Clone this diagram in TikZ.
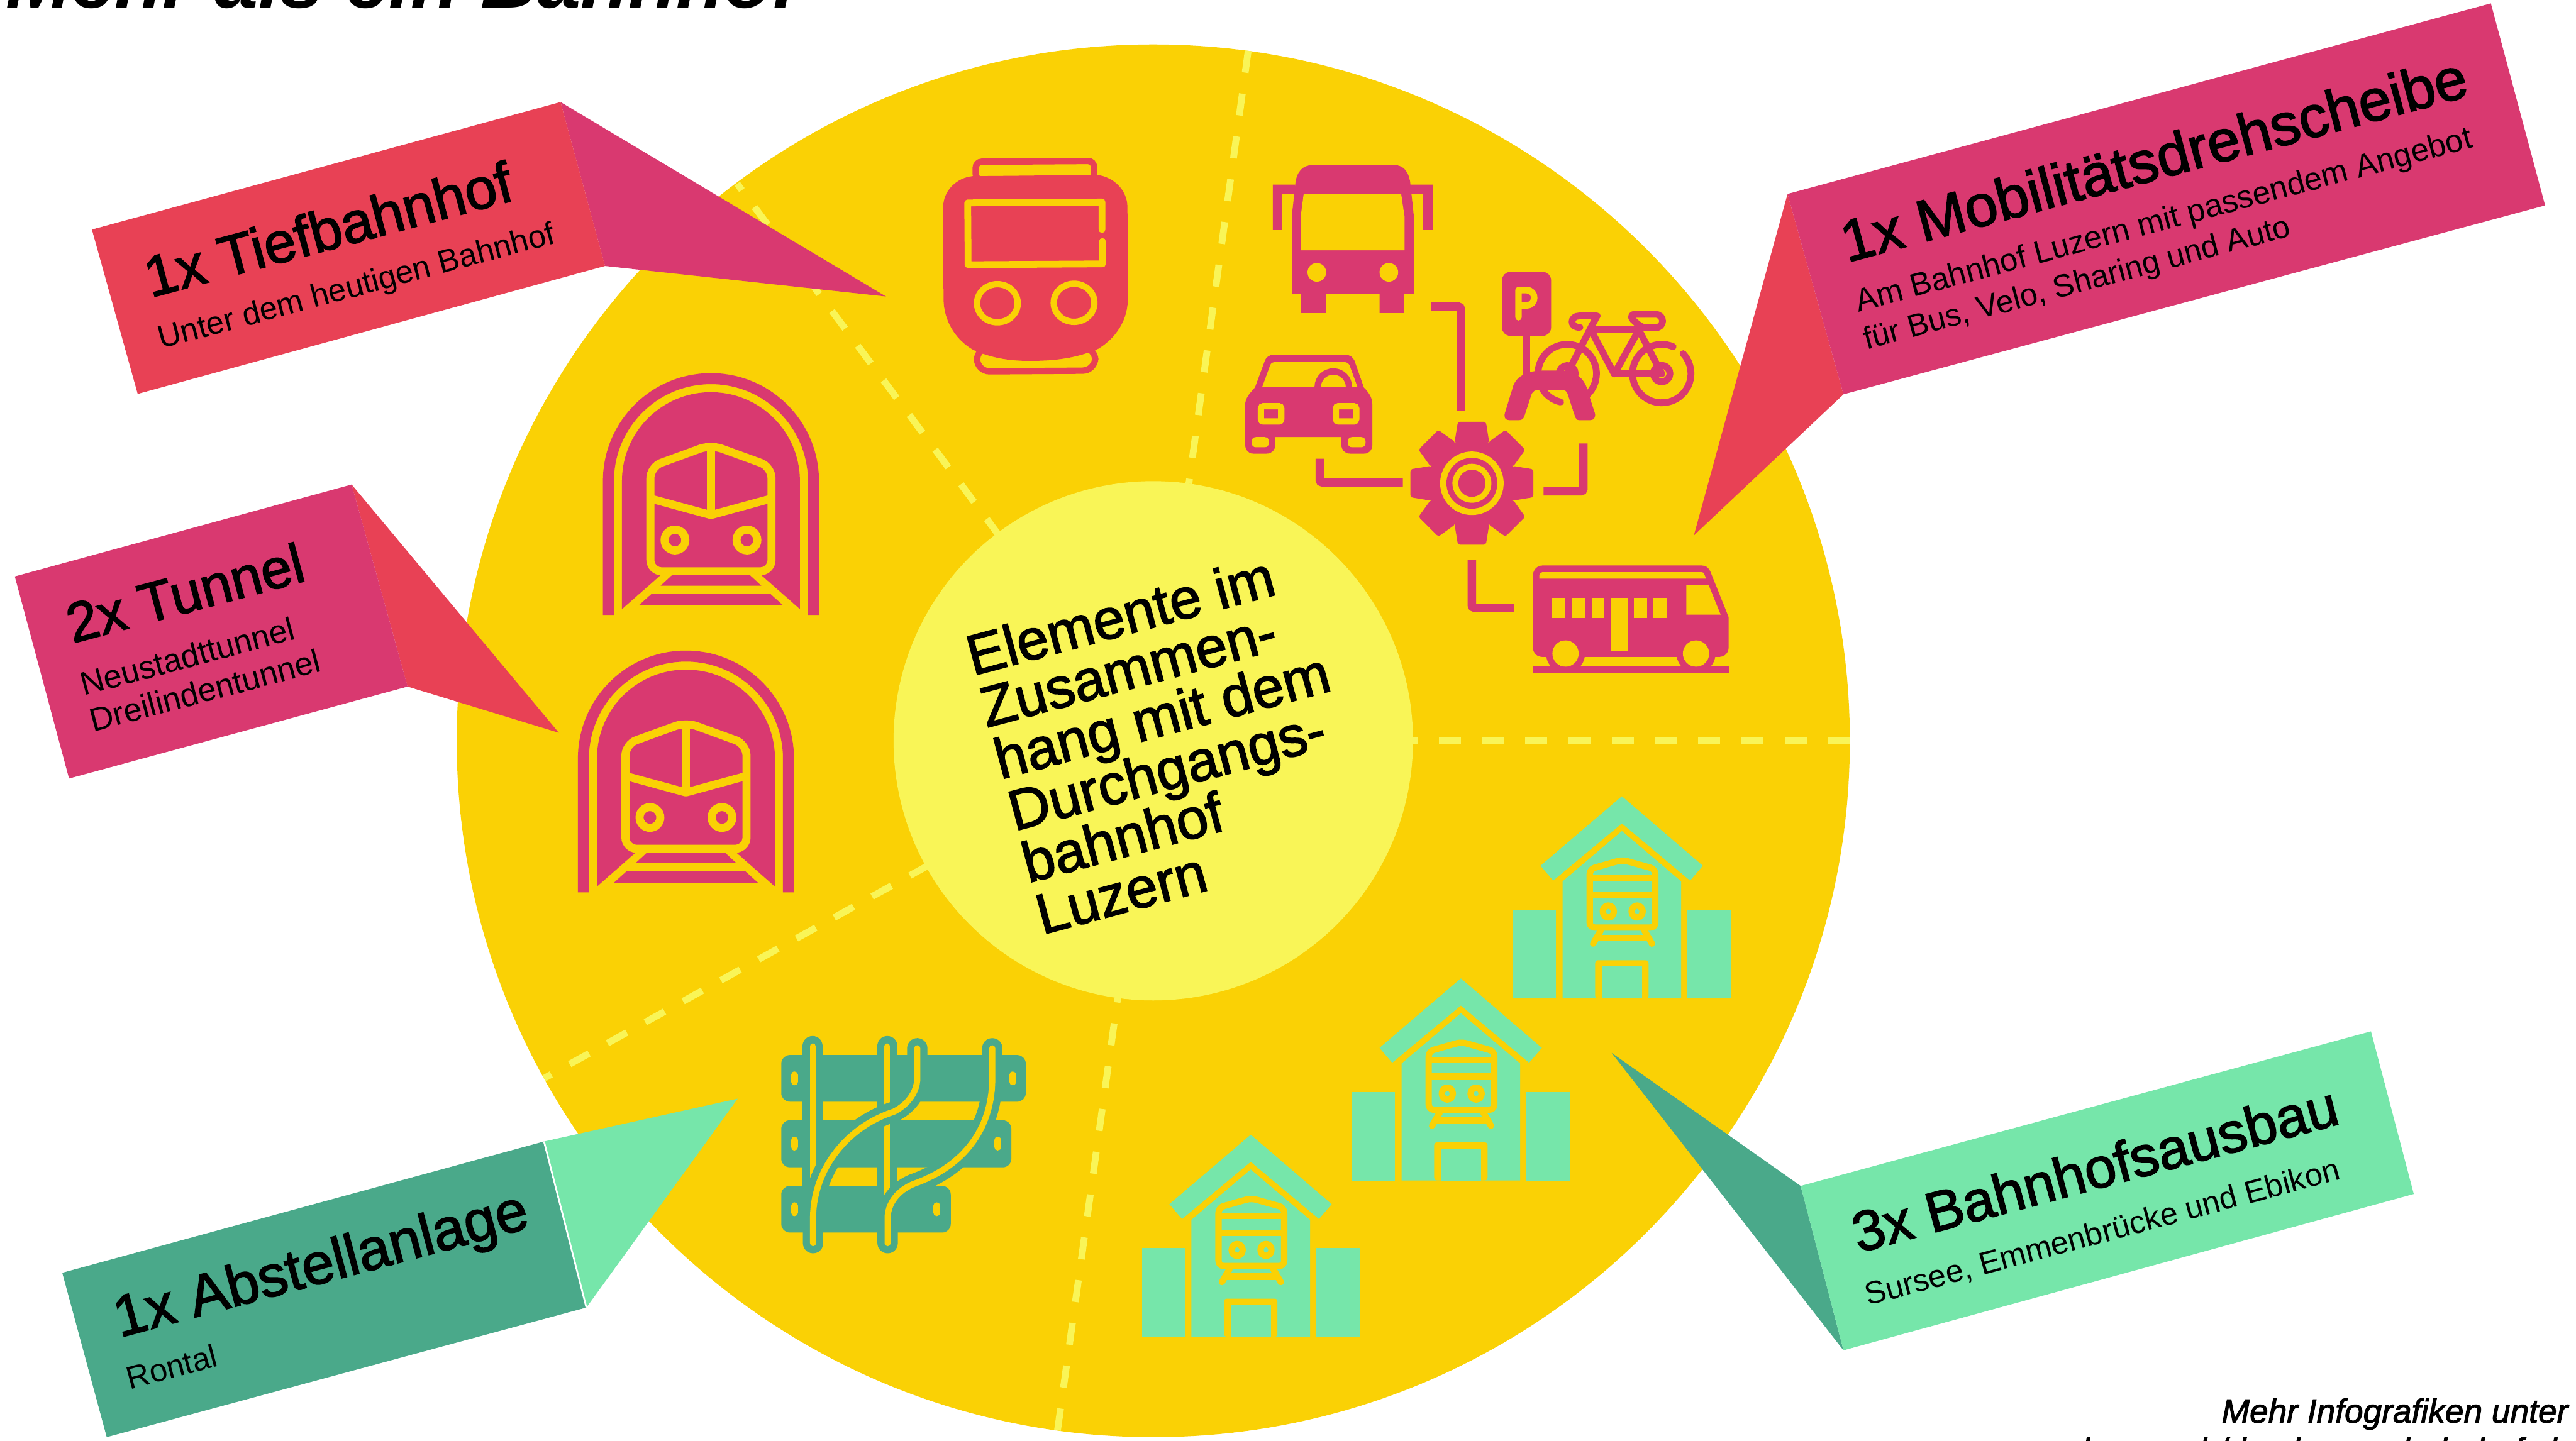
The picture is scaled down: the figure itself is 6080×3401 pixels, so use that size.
\documentclass[tikz,border=0pt]{standalone}
\usepackage{fontspec}
\setmainfont{Liberation Sans}
\newfontfamily\medf{Liberation Sans}[FakeBold=2]
\definecolor{gold}{HTML}{FAD105}
\definecolor{lemon}{HTML}{F9F557}
\definecolor{rose}{HTML}{D93970}
\definecolor{coral}{HTML}{E84155}
\definecolor{teal}{HTML}{4AA98A}
\definecolor{mint}{HTML}{76E6AA}
\tikzset{
  spoke/.style={draw=lemon,line width=1.6mm,dash pattern=on 5.2mm off 5mm},
  head/.style={anchor=base west,rotate=15,inner sep=0pt,font=\medf\fontsize{38.6}{38.6}\selectfont},
  sub/.style={anchor=base west,rotate=15,inner sep=0pt,font=\fontsize{21.5}{21.5}\selectfont},
  foot/.style={anchor=base east,inner sep=0pt,font=\medf\itshape\fontsize{22.5}{22.5}\selectfont},
  ystroke/.style={draw=gold,line join=round},
  bracket/.style={draw=rose,line width=2mm,rounded corners=0.6mm},
  bike/.style={draw=rose,line width=1.6mm,line cap=round,line join=round},
  tstroke/.style={draw=gold,line width=1.5mm,line join=round},
}
\newcommand{\tunnelicon}[2]{%
\begin{scope}[shift={(#1,#2)}]
  \fill[rose] (-255,602)--(-255,286) arc (180:360:255) --(255,602)--(229,602)--(229,286) arc (360:180:229) --(-229,602)--cycle;
  \fill[rose] (-210,588)--(-210,286) arc (180:360:210) --(210,588)--(119,508)--(-119,508)--cycle;
  \draw[ystroke,line width=1.9mm,fill=rose,rounded corners=2.7mm] (-143,499)--(-143,252)--(0,200)--(143,252)--(143,499)--cycle;
  \draw[ystroke,line width=1.9mm] (-143,327)--(0,366)--(143,327);
  \draw[ystroke,line width=1.9mm] (0,200)--(0,366);
  \draw[ystroke,line width=1.9mm] (-85,425) circle (24.5);
  \draw[ystroke,line width=1.9mm] (85,425) circle (24.5);
  \fill[rose] (-92,508)--(92,508)--(119,533)--(-119,533)--cycle;
  \fill[rose] (-140,552)--(140,552)--(170,579)--(-170,579)--cycle;
\end{scope}}
\newcommand{\stationicon}[2]{%
\begin{scope}[shift={(#1,#2)}]
  \fill[mint] (3828,1880)--(4019,2044)--(3989,2079)--(3828,1944)--(3666,2079)--(3636,2044)--cycle;
  \fill[mint] (3828,1962)--(3968,2081)--(3968,2357)--(3688,2357)--(3688,2081)--cycle;
  \fill[mint] (3571,2148) rectangle (3673,2357);
  \fill[mint] (3983,2148) rectangle (4087,2357);
  \draw[tstroke,rounded corners=1.2mm] (3752,2190)--(3752,2052)--(3829,2030)--(3907,2052)--(3907,2190)--cycle;
  \draw[tstroke] (3752,2072)--(3907,2072);
  \draw[tstroke] (3752,2112)--(3907,2112);
  \draw[tstroke] (3796,2152) ellipse (13 and 14);
  \draw[tstroke] (3864,2152) ellipse (13 and 14);
  \draw[tstroke,line cap=round] (3778,2197)--(3760,2228);
  \draw[tstroke,line cap=round] (3881,2197)--(3899,2228);
  \draw[tstroke] (3771,2215)--(3888,2215);
  \fill[gold,rounded corners=0.6mm] (3765,2357)--(3765,2267)--(3891,2267)--(3891,2357)--cycle;
  \fill[mint] (3781,2282) rectangle (3876,2357);
\end{scope}}
\begin{document}
\begin{tikzpicture}[x=0.1mm,y=-0.1mm]
\useasboundingbox (0,0) rectangle (6080,3401);
\fill[white] (0,0) rectangle (6080,3401);
% disc
\coordinate (c) at (2722,1749);
\fill[gold] (c) circle (1644);
\draw[spoke] (2360,1267)--(1740,434);
\draw[spoke] (2946,120)--(2806,1142);
\draw[spoke] (4366,1749)--(3335,1749);
\draw[spoke] (2496,3377)--(2638,2356);
\draw[spoke] (2193,2042)--(1284,2546);
\fill[lemon] (c) circle (613);
% underground station icon
\draw[draw=coral,fill=gold,line width=1.5mm,rounded corners=1.4mm] (2303,425)--(2303,382)--(2582,380)--(2582,425)--cycle;
\draw[draw=coral,fill=gold,line width=1.5mm,rounded corners=3mm] (2306,820)--(2306,877)--(2585,875)--(2585,820)--cycle;
\fill[coral] (2226,490) .. controls (2226,450) and (2258,420) .. (2295,416) -- (2590,413) .. controls (2628,418) and (2660,448) .. (2661,488) -- (2662,704) .. controls (2662,760) and (2630,800) .. (2593,823) .. controls (2540,846) and (2490,852) .. (2430,852) .. controls (2380,852) and (2340,845) .. (2297,826) .. controls (2260,805) and (2227,762) .. (2227,704) -- cycle;
\draw[draw=gold,line width=1.6mm,line cap=round,line join=round] (2601,542)--(2601,477)--(2284,479)--(2285,625)--(2602,623)--(2602,570);
\draw[draw=gold,line width=1.5mm] (2354,716) ellipse (48 and 45);
\draw[draw=gold,line width=1.5mm] (2535,715) ellipse (48 and 45);
% tunnels
\tunnelicon{1678}{850}
\tunnelicon{1619}{1505}
% bus
\fill[rose] (3049,694)--(3049,511)--(3057,436) .. controls (3060,405) and (3075,390) .. (3097,390) -- (3292,390) .. controls (3312,390) and (3326,405) .. (3329,436) -- (3337,511)--(3337,694)--(3314,694)--(3314,739)--(3256,739)--(3256,694)--(3130,694)--(3130,739)--(3071,739)--(3071,694)--cycle;
\fill[gold] (3077,458)--(3307,458)--(3315,511)--(3315,591)--(3070,591)--(3070,511)--cycle;
\fill[rose] (3004,543)--(3004,436)--(3057,436)--(3057,458)--(3026,458)--(3026,543)--cycle;
\fill[rose] (3381,543)--(3381,436)--(3329,436)--(3329,458)--(3359,458)--(3359,543)--cycle;
\fill[gold] (3108,643) circle (22);
\fill[gold] (3278,643) circle (22);
% car
\fill[rose] (2939,955) .. controls (2939,940) and (2950,928) .. (2962,915) -- (2986,850) .. controls (2990,842) and (2996,838) .. (3006,838) -- (3176,838) .. controls (3186,838) and (3192,842) .. (3197,852) -- (3219,915) .. controls (3232,928) and (3239,940) .. (3239,955) -- (3239,1050) .. controls (3239,1062) and (3232,1071) .. (3220,1071) -- (3186,1071) .. controls (3174,1071) and (3166,1062) .. (3166,1050) -- (3166,1032) -- (3010,1032) -- (3010,1050) .. controls (3010,1062) and (3002,1071) .. (2990,1071) -- (2958,1071) .. controls (2946,1071) and (2939,1062) .. (2939,1050) -- cycle;
\fill[gold] (2979,914)--(2998,862) .. controls (3000,857) and (3004,855) .. (3010,855) -- (3172,855) .. controls (3178,855) and (3182,857) .. (3185,862) -- (3204,914) -- cycle;
\draw[draw=rose,line width=1.5mm] (3110,914) arc (180:360:37);
\draw[draw=gold,line width=1.5mm,fill=rose,rounded corners=0.6mm] (2976,959) rectangle (3024,995);
\draw[draw=gold,line width=1.5mm,fill=rose,rounded corners=0.6mm] (3153,959) rectangle (3201,995);
\fill[gold,rounded corners=1mm] (2954,1032)--(2995,1032)--(2995,1056)--(2954,1056)--cycle;
\fill[gold,rounded corners=1mm] (3181,1032)--(3223,1032)--(3223,1056)--(3181,1056)--cycle;
% gear
\begin{scope}[shift={(3474,1141)}]
  \fill[rose] (0,0) circle (104);
  \foreach \a in {0,45,...,315}{\fill[rose,rotate=\a,rounded corners=0.5mm] (-41,-96)--(-33,-145)--(33,-145)--(41,-96)--cycle;}
  \fill[gold] (0,0) circle (75);
  \fill[rose] (0,0) circle (60);
  \fill[gold] (0,0) circle (46);
  \fill[rose] (0,0) circle (32);
\end{scope}
% linking brackets
\draw[bracket] (3377,724)--(3448,724)--(3448,969);
\draw[bracket] (3115,1083)--(3115,1139)--(3311,1139);
\draw[bracket] (3737,1047)--(3737,1160)--(3643,1160);
\draw[bracket] (3474,1322)--(3474,1435)--(3573,1435);
% parking sign
\fill[rose] (3595,780) rectangle (3611,890);
\fill[rose,rounded corners=2mm] (3545,642) rectangle (3661,793);
\draw[draw=gold,line width=1.55mm,line cap=round,line join=round] (3584,749)--(3584,685)--(3603,685) .. controls (3627,685) and (3627,721) .. (3603,721) -- (3584,721);
% bicycle
\draw[bike] (3699,882) ++(103:69) arc (103:410:69);
\draw[bike] (3922,882) ++(-43:69) arc (-43:293:69);
\draw[bike,line width=1.7mm] (3699,882) circle (18.5);
\draw[bike] (3922,882) circle (19.5);
\draw[bike] (3770,746)--(3727,746) .. controls (3706,746) and (3703,773) .. (3729,773);
\draw[bike] (3767,750)--(3699,882);
\draw[bike] (3757,779)--(3868,779);
\draw[bike] (3757,783)--(3810,883)--(3868,779);
\draw[bike] (3810,883)--(3922,883);
\draw[bike] (3868,779)--(3922,882);
\draw[bike] (3858,742)--(3906,742) .. controls (3930,742) and (3930,774) .. (3906,774) -- (3886,774) .. controls (3878,774) and (3872,770) .. (3865,765) -- (3855,756) .. controls (3848,750) and (3850,742) .. (3858,742) -- cycle;
\fill[rose] (3552,975) -- (3572,910) .. controls (3582,885) and (3610,875) .. (3640,875) -- (3680,875) .. controls (3710,875) and (3738,885) .. (3748,925) -- (3764,975) .. controls (3767,985) and (3762,992) .. (3753,992) -- (3727,992) .. controls (3722,992) and (3719,988) .. (3717,982) -- (3700,930) .. controls (3698,924) and (3693,920) .. (3686,920) -- (3632,920) .. controls (3624,920) and (3618,924) .. (3615,930) -- (3598,982) .. controls (3596,988) and (3592,992) .. (3586,992) -- (3562,992) .. controls (3553,992) and (3549,985) .. (3552,975) -- cycle;
% regional train
\fill[rose] (3618,1360) .. controls (3618,1345) and (3628,1335) .. (3642,1335) -- (4016,1335) .. controls (4026,1335) and (4033,1340) .. (4037,1350) -- (4080,1457) -- (4080,1528) .. controls (4080,1542) and (4070,1551) .. (4057,1551) -- (3641,1551) .. controls (3628,1551) and (3618,1542) .. (3618,1528) -- cycle;
\fill[gold] (3633,1366)--(3633,1358) .. controls (3633,1354) and (3636,1351) .. (3640,1351) -- (4016,1351) .. controls (4019,1351) and (4021,1352) .. (4022,1355) -- (4027,1366) -- cycle;
\fill[gold] (3980,1382)--(4033,1382)--(4061,1451)--(3980,1451)--cycle;
\foreach \xa/\xb in {3664/3695,3710/3741,3757/3787,3857/3887,3903/3934}{\fill[gold] (\xa,1412) rectangle (\xb,1459);}
\fill[gold] (3803,1412) rectangle (3841,1536);
\fill[rose] (3618,1574) rectangle (4080,1589);
\fill[rose] (3695,1543) circle (46);
\fill[rose] (4003,1543) circle (46);
\fill[gold] (3695,1543) circle (31);
\fill[gold] (4003,1543) circle (31);
% stations
\stationicon{0}{0}
\stationicon{-380}{430}
\stationicon{-876}{799}
% sidings icon
\foreach \xa/\ya/\xb/\yb in {1844/2491/2421/2601,1844/2645/2387/2756,1844/2800/2244/2910}{\fill[teal,rounded corners=2mm] (\xa,\ya) rectangle (\xb,\yb);}
\foreach \hx/\hy in {1875/2546,2390/2546,1875/2700,2355/2700,1875/2855,2211/2855}{\draw[draw=gold,line width=1.65mm,line cap=round] (\hx,\hy-8)--(\hx,\hy+8);}
\draw[draw=teal,line width=4.8mm,line cap=round] (1918,2470)--(1918,2850);
\draw[draw=teal,line width=4.8mm,line cap=round] (2094,2470)--(2094,2900);
\draw[draw=gold,line width=1.35mm,line cap=round] (1918,2470)--(1918,2820);
\draw[draw=gold,line width=1.35mm,line cap=round] (2094,2470)--(2094,2850);
\draw[draw=teal,line width=4.8mm,line cap=round] (1919,2935)--(1919,2877) .. controls (1919,2760) and (2000,2660) .. (2109,2625) .. controls (2140,2610) and (2165,2580) .. (2165,2545) -- (2165,2475);
\draw[draw=teal,line width=4.8mm,line cap=round] (2095,2935)--(2095,2877) .. controls (2095,2840) and (2120,2810) .. (2157,2795) .. controls (2270,2755) and (2342,2670) .. (2342,2545) -- (2342,2475);
\draw[draw=gold,line width=1.45mm,line cap=round] (1919,2935)--(1919,2877) .. controls (1919,2760) and (2000,2660) .. (2109,2625) .. controls (2140,2610) and (2165,2580) .. (2165,2545) -- (2165,2475);
\draw[draw=gold,line width=1.45mm,line cap=round] (2095,2935)--(2095,2877) .. controls (2095,2840) and (2120,2810) .. (2157,2795) .. controls (2270,2755) and (2342,2670) .. (2342,2545) -- (2342,2475);
% callouts
\fill[rose] (1323,241)--(1428,628)--(2091,700)--cycle;
\fill[coral] (217,542)--(1323,241)--(1428,628)--(325,930)--cycle;
\fill[coral] (4219,458)--(4351,931)--(3998,1264)--cycle;
\fill[rose] (4219,458)--(5879,8)--(6007,485)--(4351,931)--cycle;
\fill[coral] (830,1144)--(962,1621)--(1319,1730)--cycle;
\fill[rose] (35,1361)--(830,1144)--(962,1621)--(163,1838)--cycle;
\fill[mint] (1284,2695)--(1384,3087)--(1741,2594)--cycle;
\fill[teal] (147,3005)--(1284,2695)--(1384,3087)--(252,3393)--cycle;
\draw[draw=white,line width=0.4mm] (1284,2695)--(1384,3087);
\fill[teal] (4250,2800)--(4351,3188)--(3804,2486)--cycle;
\fill[mint] (4250,2800)--(5596,2435)--(5697,2819)--(4351,3188)--cycle;
% texts
\node[anchor=base west,inner sep=0pt,font=\bfseries\itshape\fontsize{52.6}{52.6}\selectfont] (title) at (14,19) {Mehr als ein Bahnhof};
\node[head] (t1) at (355,703) {1x Tiefbahnhof};
\node[sub] (s1) at (380,824) {Unter dem heutigen Bahnhof};
\node[head,font=\medf\fontsize{39.4}{39.4}\selectfont] (t2) at (4359,620) {1x Mobilitätsdrehscheibe};
\node[sub] (s2a) at (4386,737) {Am Bahnhof Luzern mit passendem Angebot};
\node[sub,font=\fontsize{21.2}{21.2}\selectfont] (s2b) at (4405,826) {für Bus, Velo, Sharing und Auto};
\node[head,font=\medf\fontsize{37.5}{37.5}\selectfont] (t3) at (171,1519) {2x Tunnel};
\node[sub,font=\fontsize{22}{22}\selectfont] (s3a) at (197,1643) {Neustadttunnel};
\node[sub,font=\fontsize{22}{22}\selectfont] (s3b) at (220,1729) {Dreilindentunnel};
\node[head,font=\medf\fontsize{39}{39}\selectfont] (t4) at (282,3158) {1x Abstellanlage};
\node[sub] (s4) at (306,3281) {Rontal};
\node[head,font=\medf\fontsize{38}{38}\selectfont] (t5) at (4386,2958) {3x Bahnhofsausbau};
\node[sub,font=\fontsize{21.3}{21.3}\selectfont] (s5) at (4409,3083) {Sursee, Emmenbrücke und Ebikon};
\node[anchor=west,rotate=15,inner sep=0pt,align=left,font=\medf\fontsize{38.2}{36}\selectfont] (mid) at (2365,1855) {Elemente im\\Zusammen-\\hang mit dem\\Durchgangs-\\bahnhof\\Luzern};
\node[foot] (f1) at (6062,3359) {Mehr Infografiken unter};
\node[foot] (f2) at (6062,3450) {luzern.ch/durchgangsbahnhof.ch};
\end{tikzpicture}
\end{document}
